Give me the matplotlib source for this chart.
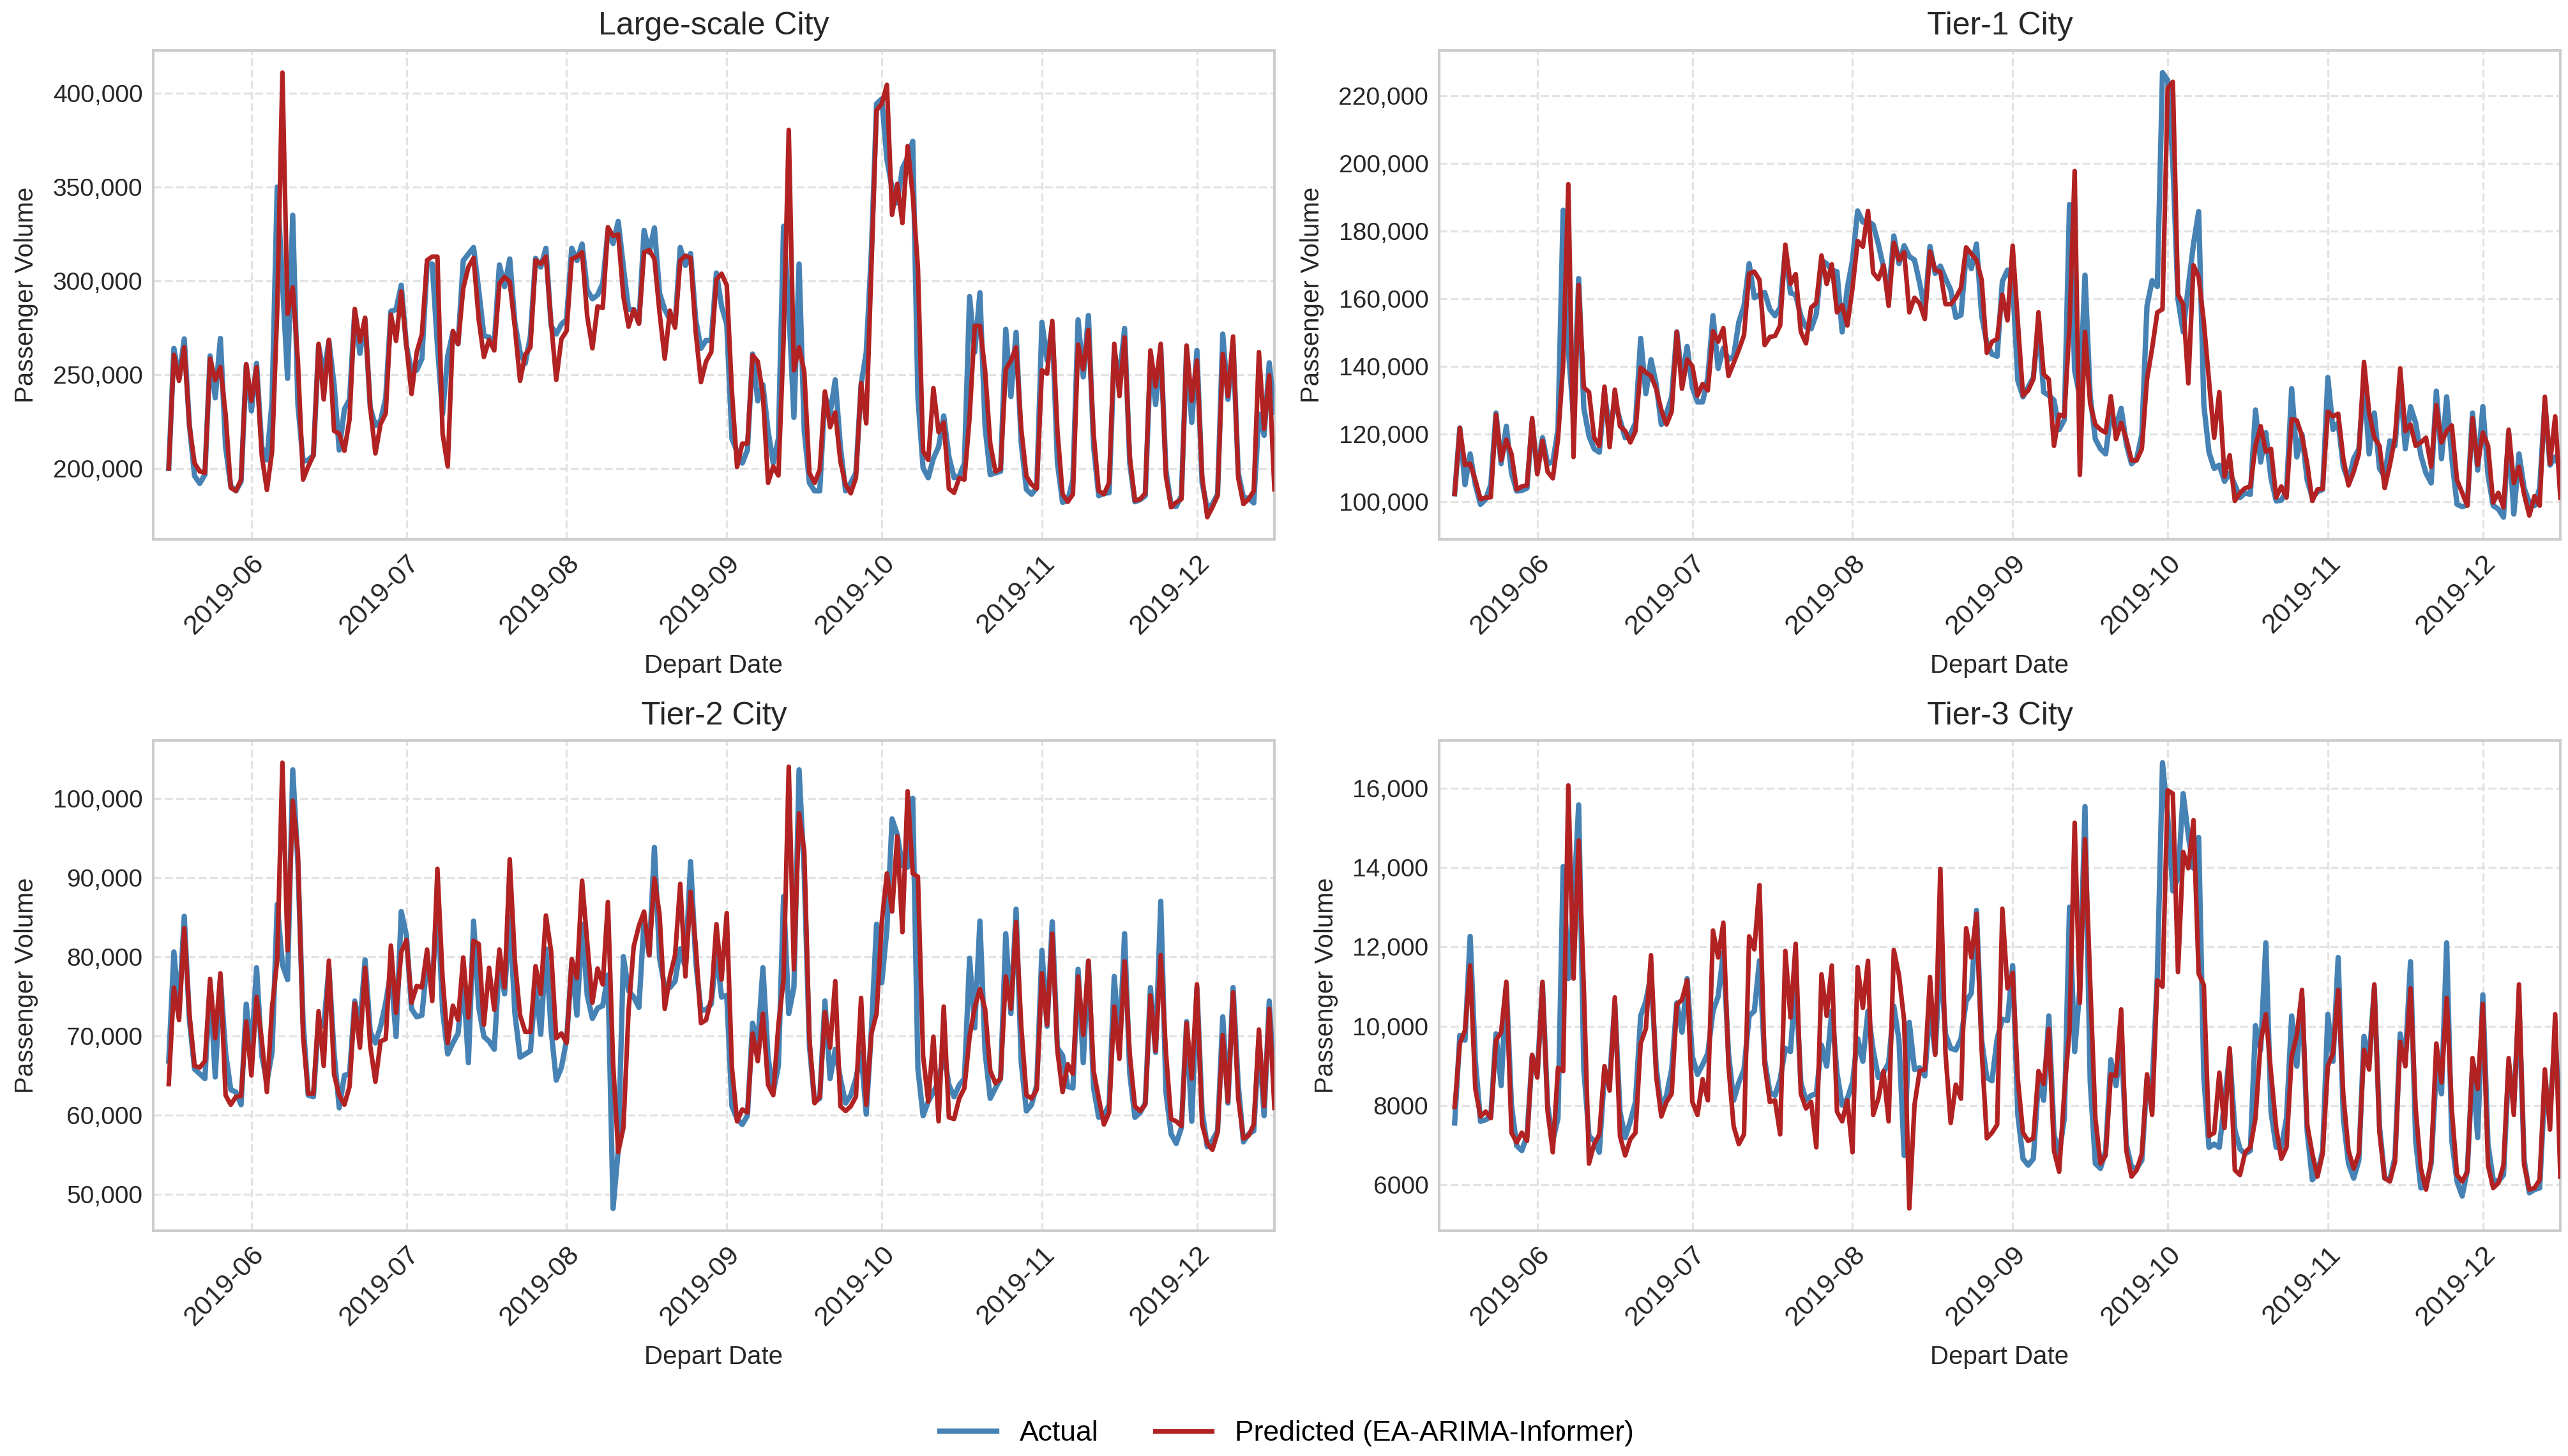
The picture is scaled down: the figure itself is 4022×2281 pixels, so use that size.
import numpy as np
import pandas as pd
import matplotlib
matplotlib.use("Agg")
import matplotlib.pyplot as plt
import matplotlib.dates as mdates
from matplotlib.ticker import FuncFormatter

plt.rcParams['font.family'] = ['Liberation Sans', 'DejaVu Sans']

dates = pd.date_range('2019-05-16', '2019-12-16', freq='D')

# ---- Large-scale City (thousands) ----
large_actual = [200, 264, 248, 269, 223, 196, 192, 196.7, 260, 237.6, 269.3, 211.5, 190.6, 188, 193, 255,
    230.7, 256, 211.5, 204.5, 236, 350, 300, 248, 335, 234, 203.7, 204.5, 207, 265.5, 250, 268, 244.6, 209.8,
    231.6, 236.8, 283.8, 261.3, 279.4, 232.4, 222.8, 225.4, 237.6, 283.8, 284.7, 297.7, 265.5, 251.6, 252.4,
    258.5, 309, 309, 265.5, 229, 260, 272.5, 266.4, 310.8, 314.3, 317.8, 295, 270.7, 270, 266.4, 308.5, 296.9,
    311.7, 277.7, 262, 256, 270.7, 312, 307.3, 317.4, 276, 271.6, 276.8, 279.4, 317.4, 310.8, 319.6, 295,
    290.4, 292.5, 298.6, 326.5, 319.9, 331.7, 307.3, 284.7, 284.7, 277.7, 326.9, 315.2, 328.2, 293.4, 284.7,
    279.4, 276.8, 317.8, 308.2, 314.6, 279.4, 264, 268.3, 268.3, 304.2, 286.4, 276.8, 215.9, 208.9, 202.8,
    209.8, 261, 236, 244.6, 220, 202.8, 215.9, 329.1, 286.4, 227.2, 309, 220, 192.3, 188, 188, 239.3, 229,
    247.2, 211.5, 188, 192.3, 197.6, 244.6, 262, 316, 394.4, 397, 364.8, 349.3, 341.5, 360, 365.7, 374.4,
    237.6, 200.2, 195, 205.4, 211.5, 228, 206.3, 195, 195.8, 202.8, 291.6, 262, 293.7, 222, 196.7, 197.6,
    198.4, 274.2, 238.3, 272.5, 213.2, 188.8, 186.2, 189.7, 277.9, 257.5, 276, 202.8, 181.9, 182.8, 194,
    279.2, 248.8, 281.5, 211.5, 185.4, 186.7, 187, 262, 248, 274.6, 202.8, 182.2, 183.3, 185.4, 257.5, 234,
    264.6, 199.3, 180.1, 179.8, 185.4, 264, 224.5, 262.9, 192.3, 178.4, 181, 186.2, 271.6, 236.8, 266.4,
    197.6, 184.5, 184, 181.6, 229, 217.6, 256.3, 230]
large_pred = [200, 260.6, 246.7, 264.6, 222.8, 202.8, 198.4, 197.6, 258.5, 247, 254, 229, 189.7, 188, 194,
    255.6, 236, 254, 207, 188.5, 209, 284.7, 411, 282.4, 296.5, 257, 194, 201, 207, 266.4, 236.8, 268.6, 220,
    218.5, 209.4, 226.3, 285, 267.6, 280.3, 232.4, 208, 223.7, 229.3, 282, 268, 294.3, 265.5, 239.7, 262,
    271.6, 311, 312.9, 312.9, 218.5, 201, 273.3, 266.4, 296, 307.3, 312.2, 279.4, 259.4, 268.6, 262.9, 298.6,
    302, 299.5, 275, 246.7, 260.6, 264.6, 311, 309, 312.9, 277.7, 247.2, 269, 273.3, 311.7, 312.9, 315.2, 281,
    264, 286.4, 285.5, 328.6, 323.9, 324.7, 291.6, 275.6, 284.7, 277.1, 315.2, 316.4, 311.7, 282.9, 258.5,
    284.1, 275, 310.8, 313.4, 312.2, 272.5, 246, 257, 262, 300.7, 303.8, 297.7, 241, 200.7, 213.2, 213.2,
    260.3, 257, 239.3, 192.3, 201, 196.2, 268, 380.5, 252.3, 264.6, 251.6, 197.6, 192.3, 199.3, 241, 222,
    229.8, 203.7, 191.4, 186.7, 194.9, 245.5, 224, 307.3, 391, 394.4, 404.5, 335.2, 351.7, 330.8, 371.8,
    345.7, 307, 209, 204.5, 242.8, 219.3, 224.5, 189.2, 187, 194.9, 194, 227.2, 276, 276, 252.3, 213.2, 198.4,
    199.7, 252.8, 257.5, 264.6, 221, 195.8, 191.4, 189.2, 252.3, 250.5, 278.6, 220, 186.2, 182.2, 186.2, 266,
    252.8, 273.8, 218.5, 188, 186.2, 192.3, 266.4, 238.5, 269.8, 206.3, 182.8, 183.6, 186.7, 262.9, 243.7,
    266.4, 195.8, 179.3, 181.9, 183.6, 265.5, 236, 257.5, 195.8, 174, 179.3, 185.4, 261, 238.5, 270.3, 194.9,
    181, 183.6, 188, 262, 221, 249.7, 188.8]

# ---- Tier-1 City (thousands) ----
tier1_actual = [102.3, 121.8, 105, 114.1, 105, 99.2, 100.7, 105, 126.2, 111.2, 122.3, 108.4, 103.1, 103.3,
    104, 123.7, 108.8, 118.9, 111.2, 111.7, 121.3, 186.2, 145, 125, 166, 127.6, 119.4, 115.6, 114.6, 131.9,
    121.3, 129.5, 124.2, 118.9, 119.9, 123.3, 148.3, 131.9, 142, 134.8, 122.8, 126.2, 131, 150.2, 136.2,
    145.9, 133.8, 129.5, 129.5, 136.7, 155, 139.4, 145.4, 142, 143, 153.1, 157.9, 170.4, 160.3, 161.2, 161.9,
    156.9, 155, 157.4, 174.2, 161.7, 161.2, 155, 151.6, 151.1, 155.5, 171.4, 170.4, 168.5, 168, 150.2, 163.2,
    171.4, 186, 182.7, 182.9, 181.9, 176.2, 169.4, 161.2, 178.6, 170.4, 175.7, 172.5, 171.5, 164.6, 156.9,
    175.5, 167.5, 169.7, 166, 162.7, 154.5, 155.2, 173.3, 168.9, 176.2, 155, 146.8, 143.6, 143, 165.1, 168.5,
    164.6, 135.8, 131, 133.8, 136.7, 152.1, 132.4, 131.4, 130, 121.3, 124.2, 187.9, 138.7, 131, 167, 131.4,
    118.5, 115.6, 114.1, 126.2, 122.3, 127.6, 117, 111.2, 112.7, 119.9, 157.9, 165.4, 163.6, 226.9, 224.7,
    200, 159.8, 150.2, 163.7, 176.2, 185.8, 128.6, 114.6, 109.8, 110.8, 106, 108.4, 105, 101.2, 102.6, 102.1,
    127.1, 111.7, 120.4, 106.9, 100.2, 100.4, 103.1, 133.4, 113.2, 119.9, 106.4, 101.2, 102.9, 103.6, 136.7,
    121.3, 123.3, 110.3, 106, 112.7, 115.6, 135.8, 114.1, 126.2, 109.8, 107.4, 118, 116.5, 134.8, 115.6,
    128.1, 123.3, 113.7, 108.4, 105.5, 132.7, 112.7, 131, 112.7, 99.2, 98.5, 99, 126.2, 109.3, 128.1, 107.9,
    98.8, 97.8, 95.4, 120.4, 96.3, 114.1, 104, 99.7, 98.8, 104, 129, 110.8, 113.2, 110]
tier1_pred = [102.3, 121.8, 110.8, 111.2, 106.4, 100.7, 101.2, 101.3, 125.7, 112.2, 118.3, 114.1, 103.6,
    104.5, 104.8, 124.7, 108.1, 118, 108.8, 106.9, 118.5, 140.6, 193.9, 113.2, 164.1, 133.8, 132.4, 118.9,
    116.5, 134, 116.1, 133.1, 122.3, 120.9, 117.5, 120.9, 139.6, 138.2, 137.2, 133.4, 127.1, 122.8, 126.6,
    150.2, 133.4, 142, 140.1, 131.4, 134.8, 132.9, 150.4, 147.3, 151.3, 137.2, 141, 144.9, 149.2, 167.5, 168,
    165.6, 146.3, 148.7, 149, 152.1, 176, 164.4, 167.3, 150.2, 146.8, 157.4, 158.8, 172.8, 164.4, 170.2, 156,
    158.1, 152.1, 163.2, 177.1, 175.4, 186, 167.7, 165.8, 169.9, 157.9, 176.6, 171.4, 173.8, 156, 160.3,
    158.6, 154, 174, 168.5, 168, 158.4, 158.4, 160.3, 163.2, 175.2, 173.3, 171.5, 165.6, 144, 147.3, 148.1,
    161.2, 153.6, 175.7, 153.1, 131.4, 132.9, 136.2, 156, 137.7, 136.2, 116.5, 125.7, 125.2, 152.1, 197.8,
    107.9, 150.2, 129, 122.8, 121.3, 120.4, 131.2, 118.5, 123.3, 118.5, 112.2, 112.2, 115.6, 136.2, 145.4,
    156, 156.9, 222.3, 224.2, 161.2, 158.4, 135, 169.9, 166.5, 153.1, 135.8, 118.9, 132.4, 107.4, 113.7,
    100.2, 102.6, 104, 104.5, 116.5, 122.3, 114.8, 115.6, 101.2, 104.5, 101.2, 124.4, 124, 119.4, 111.2,
    100.2, 103.6, 103.8, 126.6, 125.2, 126, 112.7, 104.8, 108.8, 114.1, 141.3, 126.2, 118.9, 116.5, 104,
    110.8, 118.9, 139.4, 120.9, 122.8, 116.5, 117.5, 118.9, 110.3, 128.6, 117.5, 120.9, 122.5, 106.4, 102.6,
    98.8, 124.7, 110.8, 120.4, 116.5, 99.7, 102.6, 98.3, 121.3, 105.5, 110.3, 102.1, 95.9, 101.6, 98.8, 131,
    111.2, 125.2, 101.2]

# ---- Tier-2 City (thousands) ----
tier2_actual = [66.8, 80.6, 73.2, 85.1, 72, 65.8, 65.2, 64.6, 76.5, 64.8, 77.3, 67.9, 63.2, 62.9, 61.3, 74,
    67.9, 78.6, 67.5, 64.2, 67.9, 86.6, 79, 77.1, 103.6, 91.7, 71.8, 62.5, 62.3, 72, 71.2, 78.6, 67.9, 60.9,
    65, 65.2, 74.4, 71.2, 79.6, 70.5, 69.1, 71.2, 74.2, 78.1, 69.9, 85.7, 82.7, 73.4, 72.4, 72.6, 79.4, 76.5,
    87.2, 73.2, 67.7, 69.1, 70.3, 77.3, 66.6, 84.5, 73.6, 69.9, 69.3, 68.3, 79.4, 75.3, 85.1, 72.8, 67.3,
    67.7, 68.1, 76.5, 70.2, 81, 70.8, 64.4, 66, 69.5, 79.2, 72.6, 84.1, 75.1, 72.2, 73.5, 73.8, 77.7, 48.2,
    55.6, 80, 75.7, 74.9, 73.6, 84.7, 80.2, 93.8, 79.8, 76.1, 76.1, 76.9, 81, 78.6, 92, 79.4, 73.2, 73.3, 74,
    80.6, 74.9, 75.1, 61.1, 59.5, 58.8, 59.9, 71.6, 68.9, 78.6, 67.3, 62.9, 66.2, 87.6, 72.8, 76.1, 103.6,
    90.5, 68.7, 61.7, 62.1, 74.4, 64.6, 68.3, 64.6, 61.5, 62.5, 64.6, 67.9, 60.1, 70.8, 84.1, 76.7, 83.5,
    97.4, 95.4, 91.5, 91.3, 100, 65.8, 59.9, 61.7, 62.9, 64.2, 67.9, 63.8, 62.3, 63.8, 64.6, 79.8, 71, 84.5,
    67.9, 62.1, 63.4, 64.6, 82.9, 72.8, 86, 66.6, 60.5, 61.3, 63.8, 80.8, 71.2, 84.4, 68.5, 67.5, 63.6, 63.4,
    78.4, 66.6, 79.4, 63.4, 59.7, 59.9, 61.3, 77.5, 68.7, 82.9, 65.2, 59.7, 60.3, 61.5, 76.1, 67.9, 87, 62.9,
    57.6, 56.4, 58.4, 71.8, 59.2, 76.1, 60.5, 56, 56.8, 58, 72.4, 61.5, 76.1, 63.8, 56.6, 57.6, 58, 69.5,
    59.9, 74.4, 63]
tier2_pred = [63.9, 76.1, 72, 83.6, 72.8, 66.2, 66, 66.8, 77.2, 69.7, 77.9, 62.5, 61.3, 62.3, 62.4, 71.8, 65,
    74.9, 69.5, 62.9, 73.6, 79.6, 104.5, 80.8, 99.7, 93.1, 69.9, 62.7, 62.7, 73.1, 66.2, 79.5, 65.1, 62.5,
    61.3, 63.6, 74.1, 68.5, 78.6, 68.7, 64.2, 69.3, 69.6, 81.4, 72.9, 80.6, 82.1, 74.2, 76.3, 76.1, 80.9,
    74.4, 91.1, 77.3, 69.1, 73.8, 72, 79.9, 72.3, 82, 81.6, 71.4, 78.6, 73.3, 80.9, 76.1, 92.3, 79.4, 72.6,
    70.5, 70.5, 78.8, 75.3, 85.2, 80.7, 69.7, 70.3, 69.1, 79.7, 77.3, 89.6, 81.8, 74.2, 78.5, 76.5, 86.9,
    66.6, 55.3, 58.4, 73.2, 81.3, 83.9, 85.7, 80.2, 89.9, 85.3, 73.4, 77.5, 80.2, 89.2, 77.5, 88.2, 81.4,
    71.6, 72, 74.7, 84.1, 77.1, 85.5, 66, 59.2, 60.7, 60.3, 70.3, 66.8, 72.8, 63.8, 62.5, 71.4, 77.1, 104,
    78.4, 98.1, 93.3, 69.7, 61.5, 62.3, 73, 68.5, 76.9, 61.1, 60.5, 61.1, 62.3, 74.8, 61.3, 70.3, 72.8, 84.3,
    90.5, 85.7, 95.2, 83.1, 100.9, 90.5, 90.1, 67.5, 61.7, 69.9, 59.2, 73.7, 59.7, 59.5, 62.1, 63.4, 69.9,
    73.6, 75.9, 73.4, 65.6, 64, 64.6, 77.5, 73.4, 84.4, 71.2, 62.5, 62.1, 63.2, 77.9, 71.4, 82.9, 68.1, 62.9,
    66.4, 65.2, 77.5, 70.1, 79.5, 65.6, 62.1, 58.8, 60.3, 73.7, 67.1, 79.4, 67.7, 61.1, 60.5, 61.3, 75.1,
    68.1, 80.2, 67.9, 59.5, 59.2, 58.6, 71.6, 64.6, 76.5, 58.8, 56.4, 55.6, 57.8, 70.1, 61.7, 75.5, 62.1, 57,
    57.4, 58.8, 70.8, 61.1, 73.4, 60.9]

# ---- Tier-3 City ----
tier3_actual = [7562, 9770, 9647, 12264, 9156, 7603, 7644, 7725, 9810, 8502, 11037, 8012, 6989, 6867, 7235,
    9238, 8829, 11037, 8012, 7112, 7684, 14022, 11200, 13000, 15575, 8911, 7235, 7112, 6826, 8829, 8666,
    10546, 7848, 7194, 7603, 8093, 10260, 10628, 11282, 8993, 7889, 8257, 8911, 10587, 9851, 11200, 9238,
    8788, 9034, 9320, 10383, 10751, 11855, 9320, 8134, 8584, 8911, 10260, 10383, 11650, 9156, 8339, 8257,
    8666, 9443, 9361, 11200, 8584, 8134, 8257, 8298, 9524, 8993, 10383, 8829, 8012, 8175, 8584, 9688, 9115,
    10383, 9402, 8707, 8829, 9075, 10506, 9647, 6744, 10097, 8911, 8952, 8748, 10465, 9320, 11773, 9810,
    9443, 9402, 9688, 10628, 10833, 12918, 9647, 8707, 8625, 9688, 10178, 10139, 11528, 7766, 6662, 6499,
    6662, 8625, 8134, 10260, 7276, 6785, 7684, 13000, 9361, 10955, 15534, 8625, 6540, 6417, 6867, 9156, 8502,
    9647, 7030, 6458, 6417, 6621, 8666, 8502, 11282, 16638, 15289, 13408, 13735, 15861, 14799, 13981, 14757,
    8707, 6949, 7030, 6949, 8093, 9320, 7398, 6908, 6785, 6867, 10015, 9402, 12100, 7848, 6949, 6949, 7684,
    10260, 8993, 10710, 7357, 6131, 6294, 6867, 10301, 9115, 11732, 7684, 6540, 6172, 6621, 9745, 9156, 10955,
    7480, 6172, 6131, 6703, 9810, 9156, 11626, 7112, 5926, 5967, 6540, 8911, 8298, 12100, 7112, 6090, 5722,
    6376, 8993, 7194, 10792, 7030, 6131, 6090, 6253, 8993, 8093, 10546, 6621, 5804, 5886, 5926, 8502, 7930,
    9647, 7684]
tier3_pred = [7971, 9565, 9892, 11528, 8420, 7725, 7848, 7684, 9647, 9851, 11119, 7317, 7071, 7317, 7112,
    9279, 8707, 11119, 7848, 6826, 8952, 8870, 16066, 11200, 14676, 10955, 6540, 7030, 7276, 8993, 8380,
    10726, 7235, 6744, 7153, 7317, 9565, 9933, 11789, 8748, 7725, 8093, 8298, 10546, 10669, 11160, 8093,
    7766, 8666, 8134, 12411, 11732, 12607, 8993, 7480, 7030, 7276, 12264, 11937, 13556, 9034, 8093, 8134,
    7276, 11896, 10219, 12076, 8298, 7930, 8093, 6949, 11307, 10260, 11528, 7848, 7603, 8134, 6826, 11487,
    10464, 11650, 7766, 8175, 8870, 7603, 11920, 11282, 10139, 5411, 8016, 8870, 8911, 11241, 9279, 13964,
    9320, 7562, 8527, 8175, 12468, 11732, 12836, 9402, 7177, 7317, 7521, 12959, 10955, 11348, 8666, 7317,
    7112, 7177, 8870, 8543, 9933, 6867, 6335, 8339, 9892, 15125, 10587, 14717, 11119, 7684, 6540, 6744, 8788,
    8748, 10424, 6867, 6213, 6376, 6785, 8788, 7766, 11160, 10996, 15943, 15861, 11364, 14390, 13981, 15191,
    11323, 11037, 7235, 7317, 8829, 7439, 9443, 6376, 6253, 6826, 6949, 7684, 9606, 10301, 8829, 7439, 6662,
    6949, 9238, 9770, 10914, 7521, 6785, 6213, 6785, 8993, 9320, 10914, 8257, 6867, 6417, 6785, 9402, 8911,
    11053, 7317, 6172, 6090, 6581, 9606, 8993, 10955, 7930, 6417, 5886, 6621, 9565, 8584, 10710, 7889, 6253,
    6090, 6335, 9197, 8420, 10563, 6499, 5926, 6049, 6499, 9197, 7766, 11053, 6499, 5886, 5926, 6131, 8911,
    7398, 10301, 6213]

titles = ['Large-scale City', 'Tier-1 City', 'Tier-2 City', 'Tier-3 City']
series = [
    (np.array(large_actual) * 1000, np.array(large_pred) * 1000),
    (np.array(tier1_actual) * 1000, np.array(tier1_pred) * 1000),
    (np.array(tier2_actual) * 1000, np.array(tier2_pred) * 1000),
    (np.array(tier3_actual), np.array(tier3_pred)),
]

W, H = 4023, 2281
DPI = 200
fig = plt.figure(figsize=(W / DPI, H / DPI), dpi=DPI)

# axes boxes in pixel coords (left, top, right, bottom)
boxes = [(240, 79, 1996, 845), (2254, 79, 4010, 845),
         (240, 1160, 1996, 1928), (2254, 1160, 4010, 1928)]

blue = '#4682B4'
red = '#B22222'
text_color = '#262626'

def yfmt(x, pos):
    if abs(x) >= 10000:
        return f'{int(round(x)):,}'
    return f'{int(round(x))}'

handles = None
for k, (l, t, r, b) in enumerate(boxes):
    ax = fig.add_axes([l / W, 1 - b / H, (r - l) / W, (b - t) / H])
    act, pred = series[k]
    la, = ax.plot(dates, act, color=blue, lw=3.0, label='Actual', zorder=3)
    lp, = ax.plot(dates, pred, color=red, lw=2.6, label='Predicted (EA-ARIMA-Informer)', zorder=4)
    handles = [la, lp]
    ax.set_xlim(pd.Timestamp('2019-05-13'), pd.Timestamp('2019-12-16'))
    ax.xaxis.set_major_locator(mdates.MonthLocator())
    ax.xaxis.set_major_formatter(mdates.DateFormatter('%Y-%m'))
    ax.yaxis.set_major_formatter(FuncFormatter(yfmt))
    ax.grid(True, linestyle='--', color='#e3e3e3', lw=1.2, zorder=0)
    ax.set_axisbelow(True)
    for s in ax.spines.values():
        s.set_color('#cccccc')
        s.set_linewidth(1.4)
    ax.tick_params(axis='y', length=0, labelsize=14, colors=text_color, pad=6)
    ax.tick_params(axis='x', length=0, labelsize=15.5, colors=text_color, pad=6)
    plt.setp(ax.get_xticklabels(), rotation=45, ha='right', rotation_mode='anchor')
    ax.set_title(titles[k], fontsize=18, color=text_color, pad=9)
    ax.set_xlabel('Depart Date', fontsize=14.5, color=text_color, labelpad=8)
    ax.set_ylabel('Passenger Volume', fontsize=14.5, color=text_color, labelpad=8)

fig.legend(handles, ['Actual', 'Predicted (EA-ARIMA-Informer)'], loc='lower center',
           bbox_to_anchor=(0.501, -0.011), ncol=2, frameon=False, fontsize=16,
           handlelength=2.0, columnspacing=2.0)

fig.savefig('out.png', dpi=DPI, facecolor='white')
